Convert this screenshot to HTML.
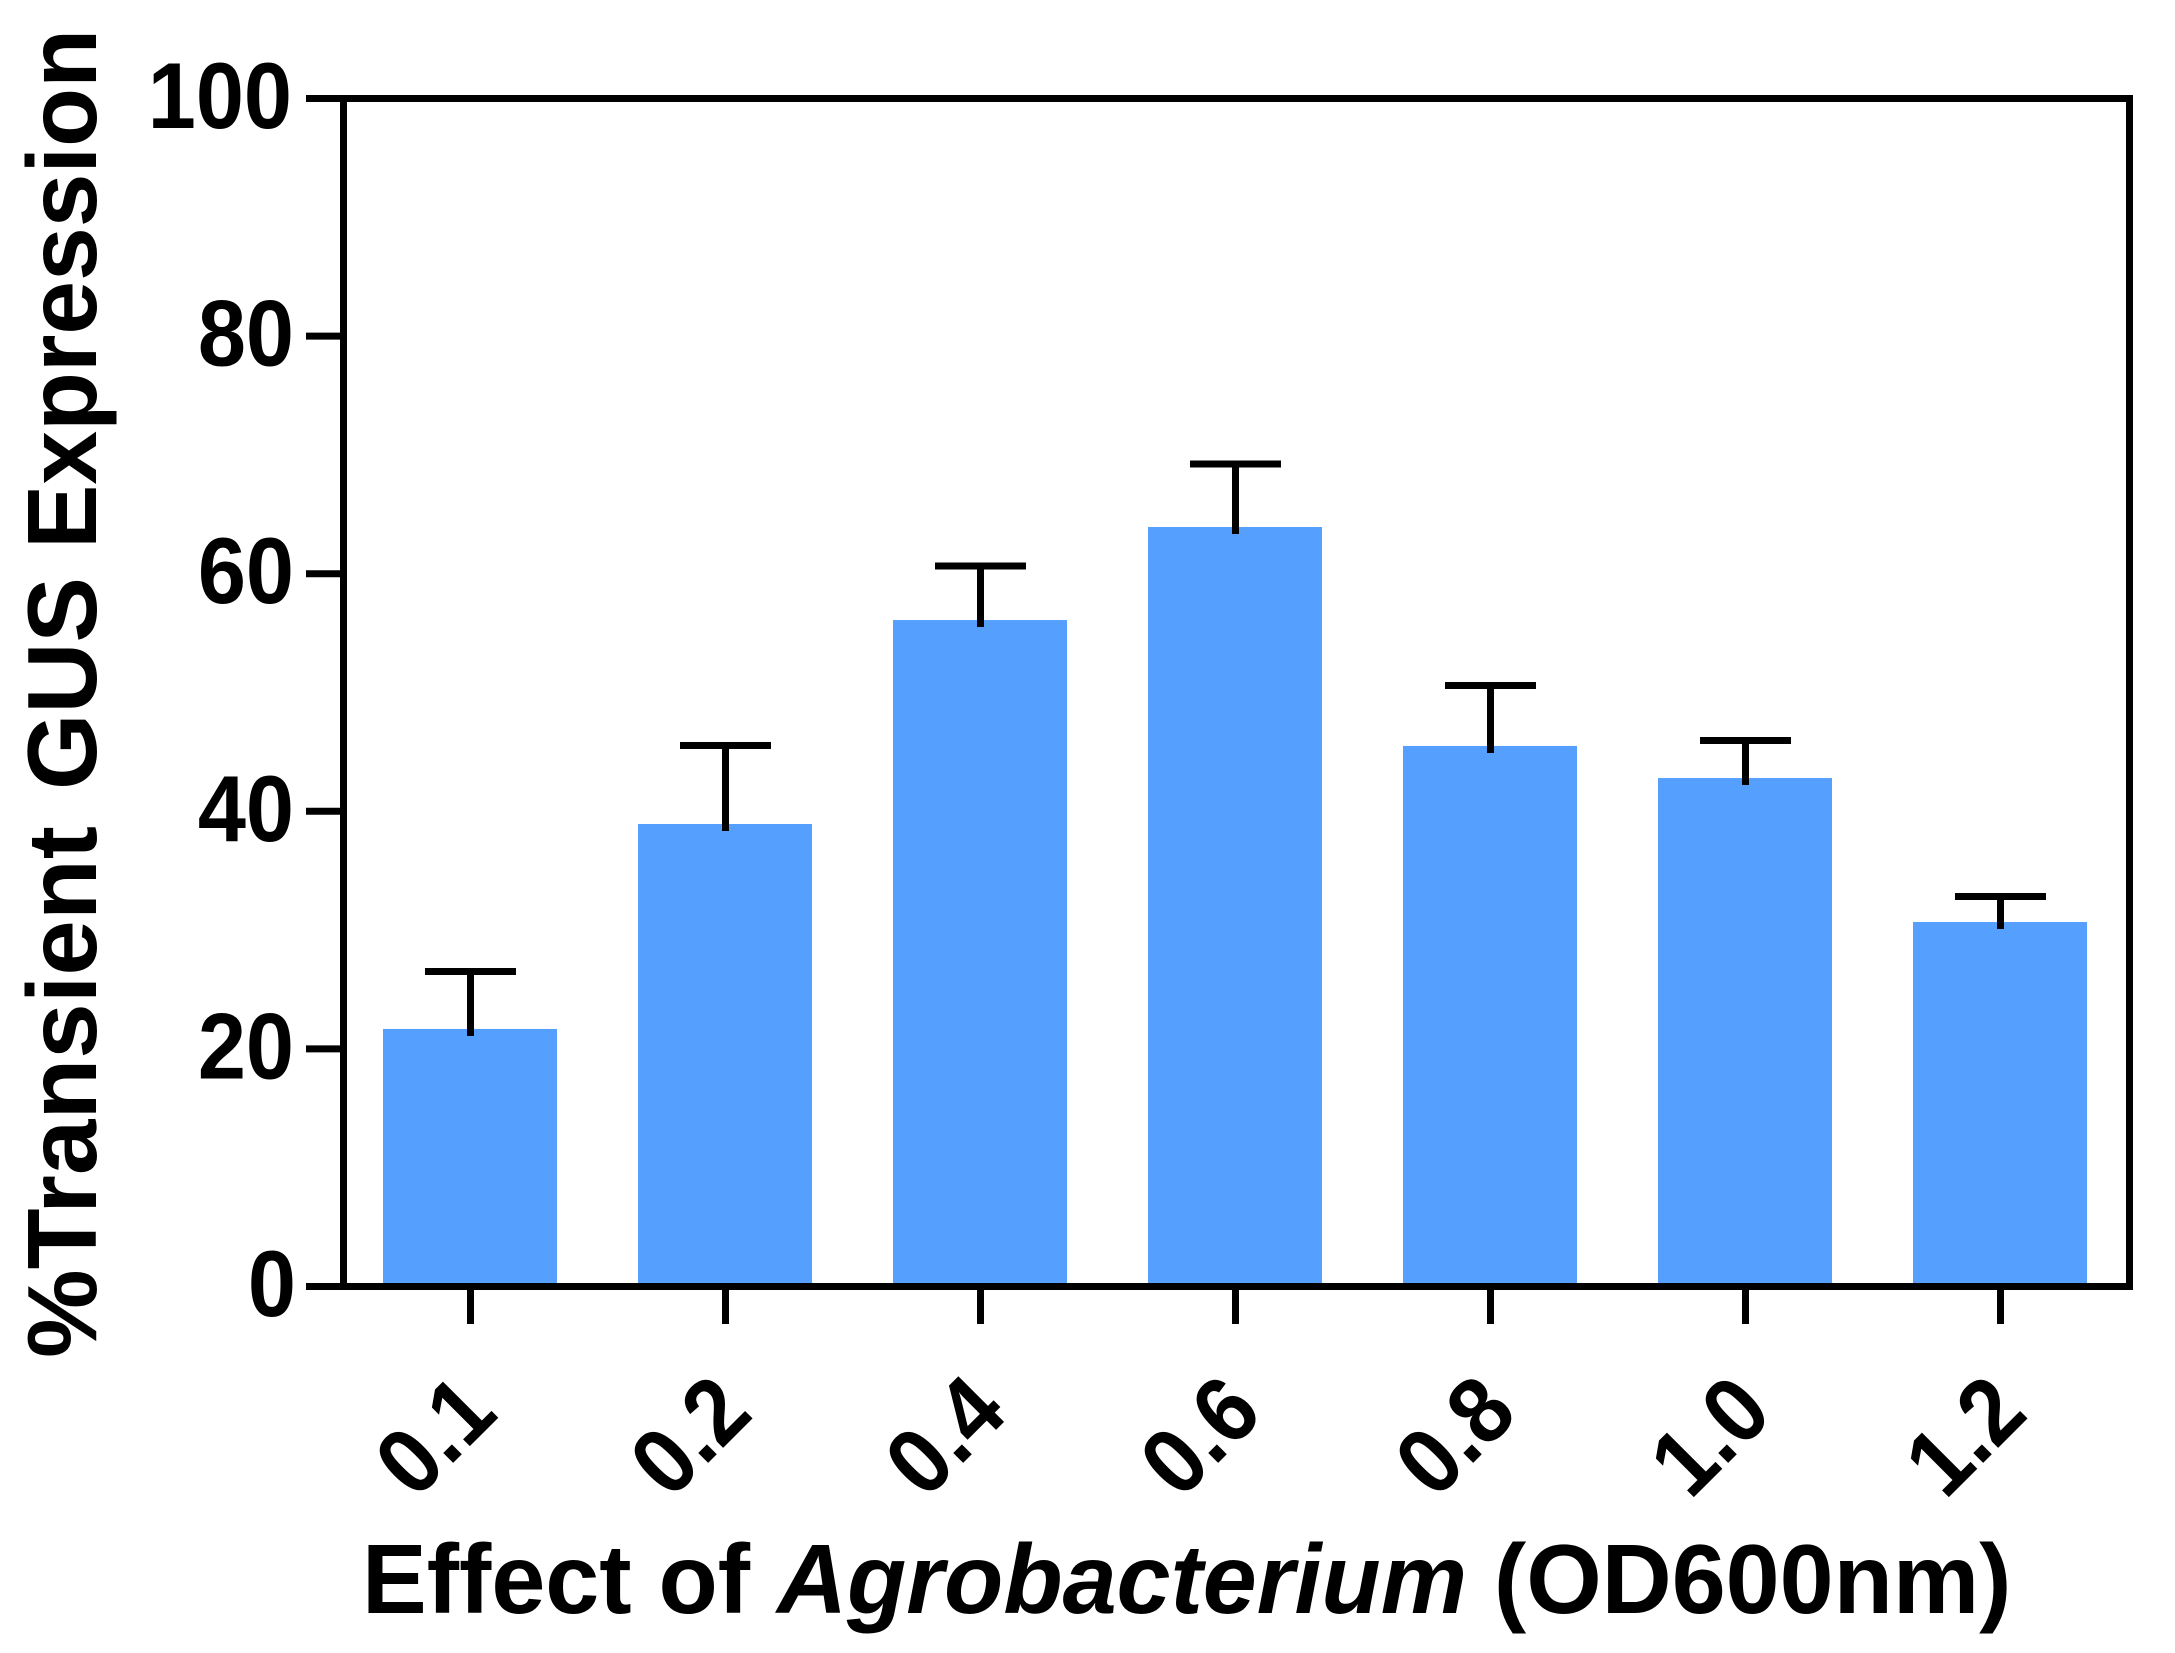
<!DOCTYPE html>
<html lang="en">
<head>
<meta charset="utf-8">
<title>Transient GUS Expression chart</title>
<style>
html,body{margin:0;padding:0;background:#fff;}
svg{display:block;}
text{font-family:"Liberation Sans",Arial,sans-serif;font-weight:bold;fill:#000;}
</style>
</head>
<body>
<svg id="chart" xmlns="http://www.w3.org/2000/svg" width="2175" height="1653" viewBox="0 0 2175 1653">
  <rect x="0" y="0" width="2175" height="1653" fill="#fff"/>
  <g id="bars"></g>
  <g id="errors"></g>
  <g id="axes">
    <rect x="343.5" y="98.5" width="1786" height="1188" fill="none" stroke="#000" stroke-width="7"/>
  </g>
  <g id="yticks"></g>
  <g id="xticks"></g>
  <g font-size="98">
    <text transform="translate(96,1358) rotate(-90)" textLength="532" lengthAdjust="spacingAndGlyphs">%Transient</text>
    <text transform="translate(96,790) rotate(-90)" textLength="213" lengthAdjust="spacingAndGlyphs">GUS</text>
    <text transform="translate(96,549) rotate(-90)" textLength="520" lengthAdjust="spacingAndGlyphs">Expression</text>
  </g>
  <text transform="translate(362,1613) scale(0.99,1)" font-size="98">Effect of <tspan font-style="italic">Agrobacterium</tspan> (OD600nm)</text>
</svg>
<script>
const categories = ['0.1', '0.2', '0.4', '0.6', '0.8', '1.0', '1.2'];
const means = [21.68, 38.93, 56.10, 63.93, 45.50, 42.80, 30.68];
const errorTops = [26.52, 45.54, 60.65, 69.23, 50.59, 45.96, 32.83];
const yTicks = [0, 20, 40, 60, 80, 100];

const SVG_NS = 'http://www.w3.org/2000/svg';
const yAxis = v => 1286.5 - v * 11.88;
const xAxis = i => 470.5 + i * 255;
function make(tag, parent, attrs) {
  const el = document.createElementNS(SVG_NS, tag);
  for (const k in attrs) el.setAttribute(k, attrs[k]);
  parent.appendChild(el);
  return el;
}
const barsG = document.getElementById('bars');
const errG = document.getElementById('errors');
const yG = document.getElementById('yticks');
const xG = document.getElementById('xticks');

categories.forEach((c, i) => {
  const cx = xAxis(i);
  const top = yAxis(means[i]);
  const bar = make('rect', barsG, {x: cx - 87.5, y: top, width: 174, height: 1283 - top, fill: '#55a0ff'});
  
  

  const capY = yAxis(errorTops[i]);
  const stem = make('line', errG, {x1: cx, x2: cx, y1: capY, y2: top + 7, stroke: '#000', 'stroke-width': 7});
  
  
  const cap = make('line', errG, {x1: cx - 45.5, x2: cx + 45.5, y1: capY, y2: capY, stroke: '#000', 'stroke-width': 7});
  
  

  const tick = make('line', xG, {x1: cx, x2: cx, y1: 1290, y2: 1324, stroke: '#000', 'stroke-width': 7});
  
  
  const lx = cx + 29.5, ly = 1416;
  const label = make('text', xG, {x: 0, y: 0, 'font-size': 94, 'text-anchor': 'end', transform: 'translate(' + lx + ' ' + ly + ') rotate(-45) scale(0.92,1)'});
  
  
  label.textContent = c;
});

yTicks.forEach(v => {
  const y = yAxis(v);
  const tick = make('line', yG, {x1: 306, x2: 340, y1: y, y2: y, stroke: '#000', 'stroke-width': 7});
  
  
  const lx = 296 - (String(v).length - 1) * 2;
  const label = make('text', yG, {x: 0, y: 0, 'font-size': 94, 'text-anchor': 'end', transform: 'translate(' + lx + ' ' + (y + 29.5) + ') scale(0.92,1)'});
  
  
  label.textContent = v;
});
</script>
</body>
</html>
